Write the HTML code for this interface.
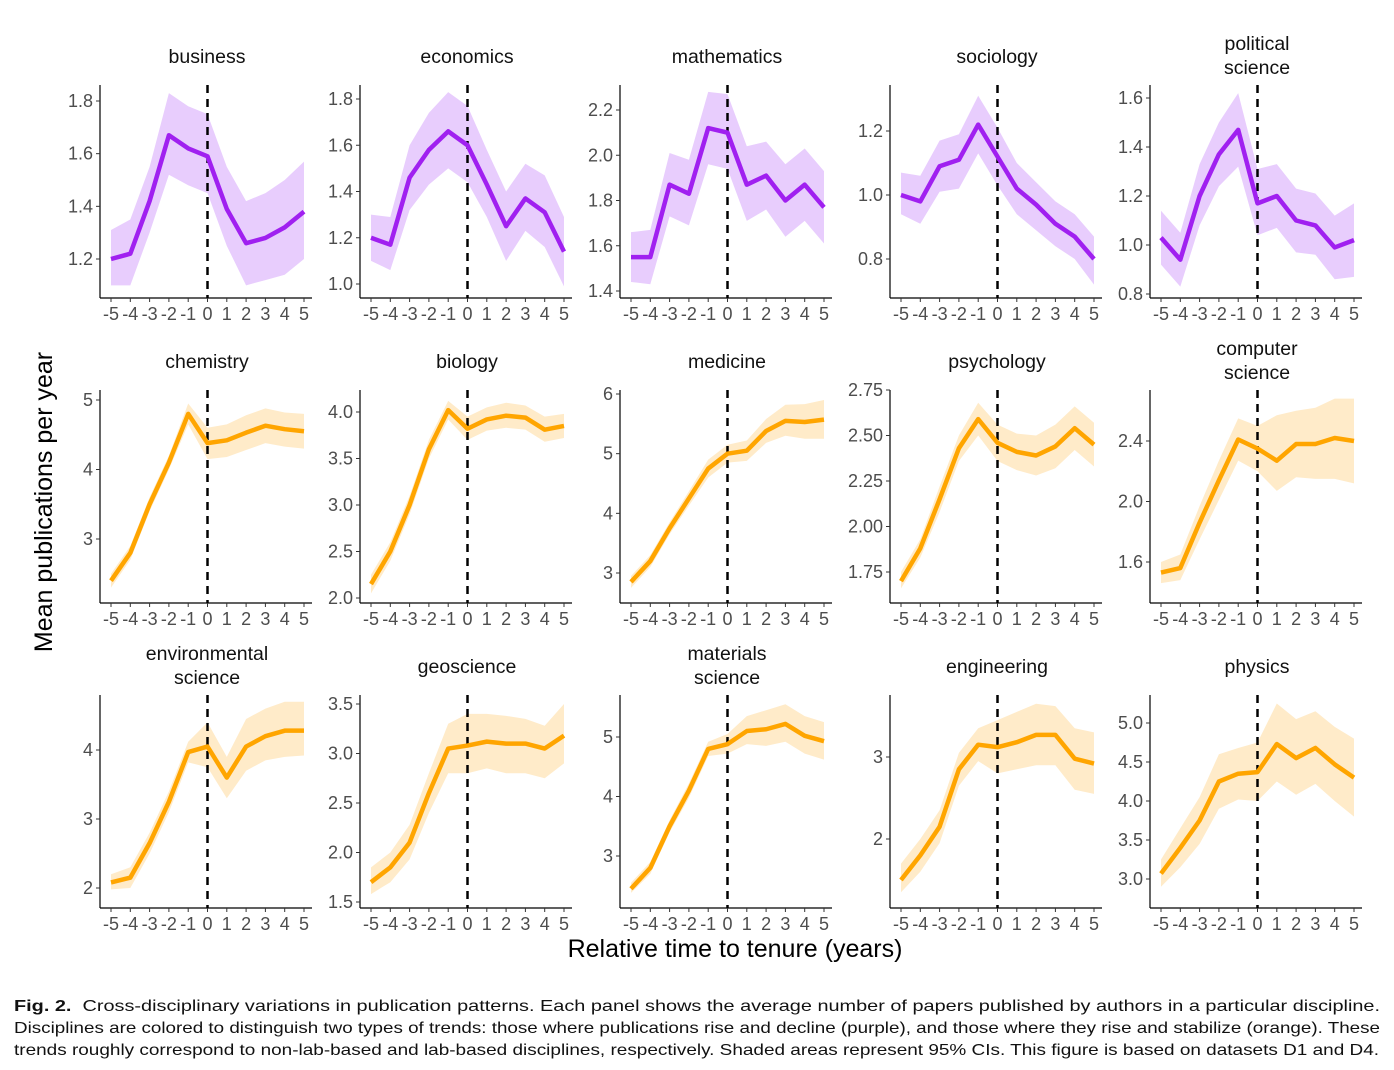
<!DOCTYPE html>
<html><head><meta charset="utf-8">
<style>
body{margin:0;background:#fff;width:1394px;height:1070px;overflow:hidden;font-family:"Liberation Sans",sans-serif}
</style></head><body>
<svg id="chart" width="1394" height="990" style="position:absolute;left:0;top:0" xmlns="http://www.w3.org/2000/svg" font-family="Liberation Sans, sans-serif"></svg>
<svg width="1394" height="80" style="position:absolute;left:0;top:990px" font-family="Liberation Sans, sans-serif" font-size="16" fill="#111">
<text x="14" y="21" textLength="1366" lengthAdjust="spacingAndGlyphs"><tspan font-weight="bold">Fig. 2.</tspan>&#160;&#160;Cross-disciplinary variations in publication patterns. Each panel shows the average number of papers published by authors in a particular discipline.</text>
<text x="14" y="43" textLength="1366" lengthAdjust="spacingAndGlyphs">Disciplines are colored to distinguish two types of trends: those where publications rise and decline (purple), and those where they rise and stabilize (orange). These</text>
<text x="14" y="65" textLength="1365" lengthAdjust="spacingAndGlyphs">trends roughly correspond to non-lab-based and lab-based disciplines, respectively. Shaded areas represent 95% CIs. This figure is based on datasets D1 and D4.</text>
</svg>
<script>
const xYears=[-5,-4,-3,-2,-1,0,1,2,3,4,5];
const titles=[["business"],["economics"],["mathematics"],["sociology"],["political","science"],["chemistry"],["biology"],["medicine"],["psychology"],["computer","science"],["environmental","science"],["geoscience"],["materials","science"],["engineering"],["physics"]];
const purple=[true,true,true,true,true,false,false,false,false,false,false,false,false,false,false];
const means=[
[1.20,1.22,1.42,1.67,1.62,1.59,1.39,1.26,1.28,1.32,1.38],
[1.20,1.17,1.46,1.58,1.66,1.60,1.43,1.25,1.37,1.31,1.14],
[1.55,1.55,1.87,1.83,2.12,2.10,1.87,1.91,1.80,1.87,1.77],
[1.00,0.98,1.09,1.11,1.22,1.12,1.02,0.97,0.91,0.87,0.80],
[1.03,0.94,1.20,1.37,1.47,1.17,1.20,1.10,1.08,0.99,1.02],
[2.4,2.8,3.5,4.1,4.8,4.38,4.42,4.53,4.63,4.58,4.55],
[2.15,2.5,3.0,3.6,4.02,3.82,3.92,3.96,3.94,3.81,3.85],
[2.85,3.2,3.75,4.25,4.75,5.0,5.05,5.38,5.55,5.53,5.57],
[1.70,1.88,2.15,2.43,2.59,2.46,2.41,2.39,2.44,2.54,2.45],
[1.53,1.56,1.86,2.14,2.41,2.35,2.27,2.38,2.38,2.42,2.40],
[2.08,2.15,2.65,3.25,3.97,4.05,3.6,4.05,4.2,4.28,4.28],
[1.70,1.85,2.10,2.60,3.05,3.08,3.12,3.10,3.10,3.05,3.18],
[2.45,2.8,3.5,4.1,4.8,4.88,5.1,5.13,5.22,5.02,4.93],
[1.5,1.8,2.15,2.85,3.15,3.12,3.18,3.27,3.27,2.98,2.92],
[3.07,3.4,3.75,4.25,4.35,4.37,4.73,4.55,4.68,4.47,4.3]];
const uppers=[
[1.31,1.35,1.55,1.83,1.78,1.75,1.55,1.42,1.45,1.50,1.57],
[1.30,1.29,1.60,1.74,1.83,1.77,1.58,1.40,1.52,1.47,1.29],
[1.66,1.67,2.01,1.98,2.28,2.27,2.04,2.06,1.96,2.03,1.93],
[1.07,1.06,1.17,1.19,1.31,1.21,1.10,1.04,0.98,0.94,0.87],
[1.14,1.05,1.33,1.50,1.62,1.31,1.33,1.23,1.21,1.12,1.17],
[2.5,2.9,3.6,4.2,4.95,4.6,4.65,4.78,4.88,4.82,4.8],
[2.25,2.6,3.1,3.7,4.12,3.95,4.05,4.1,4.07,3.95,3.98],
[2.95,3.3,3.85,4.37,4.9,5.15,5.22,5.58,5.82,5.83,5.9],
[1.75,1.93,2.22,2.50,2.68,2.56,2.51,2.50,2.56,2.66,2.57],
[1.60,1.65,1.97,2.27,2.55,2.50,2.57,2.60,2.62,2.68,2.68],
[2.2,2.3,2.8,3.4,4.12,4.4,3.9,4.45,4.6,4.7,4.7],
[1.85,2.0,2.28,2.8,3.3,3.4,3.4,3.38,3.35,3.28,3.5],
[2.55,2.9,3.6,4.22,4.92,5.05,5.35,5.45,5.55,5.35,5.25],
[1.7,2.0,2.35,3.05,3.35,3.45,3.55,3.65,3.62,3.35,3.3],
[3.25,3.65,4.05,4.6,4.68,4.75,5.25,5.05,5.15,4.95,4.8]];
const lowers=[
[1.10,1.10,1.30,1.52,1.48,1.45,1.25,1.10,1.12,1.14,1.20],
[1.10,1.06,1.32,1.43,1.50,1.44,1.29,1.10,1.23,1.16,0.99],
[1.44,1.43,1.73,1.69,1.96,1.94,1.71,1.76,1.64,1.71,1.61],
[0.94,0.91,1.01,1.02,1.13,1.03,0.94,0.89,0.84,0.80,0.72],
[0.92,0.83,1.08,1.24,1.32,1.04,1.07,0.97,0.96,0.86,0.87],
[2.3,2.7,3.4,4.0,4.65,4.15,4.18,4.28,4.38,4.33,4.3],
[2.05,2.4,2.9,3.5,3.92,3.7,3.8,3.83,3.81,3.68,3.72],
[2.75,3.1,3.65,4.13,4.6,4.85,4.88,5.18,5.3,5.25,5.25],
[1.66,1.83,2.08,2.36,2.50,2.36,2.31,2.28,2.32,2.42,2.33],
[1.46,1.48,1.75,2.01,2.27,2.20,2.07,2.16,2.15,2.15,2.12],
[1.98,2.0,2.5,3.1,3.82,3.75,3.3,3.7,3.85,3.9,3.92],
[1.58,1.7,1.93,2.4,2.8,2.8,2.85,2.8,2.8,2.75,2.9],
[2.38,2.7,3.4,3.98,4.68,4.72,4.88,4.85,4.92,4.72,4.62],
[1.35,1.6,1.95,2.65,2.95,2.8,2.85,2.9,2.9,2.6,2.55],
[2.9,3.15,3.45,3.9,4.02,4.0,4.25,4.08,4.22,4.0,3.8]];
const yTicks=[
["1.2","1.4","1.6","1.8"],["1.0","1.2","1.4","1.6","1.8"],["1.4","1.6","1.8","2.0","2.2"],["0.8","1.0","1.2"],["0.8","1.0","1.2","1.4","1.6"],
["3","4","5"],["2.0","2.5","3.0","3.5","4.0"],["3","4","5","6"],["1.75","2.00","2.25","2.50","2.75"],["1.6","2.0","2.4"],
["2","3","4"],["1.5","2.0","2.5","3.0","3.5"],["3","4","5"],["2","3"],["3.0","3.5","4.0","4.5","5.0"]];
const yCal=[
[1.2,259,1.8,101],[1.0,284,1.8,99],[1.4,291,2.2,110],[0.8,259,1.2,131],[0.8,294,1.6,98],
[3,539,5,400],[2.0,598,4.0,412],[3,573,6,394],[1.75,572,2.75,390],[1.6,562,2.4,441],
[2,888,4,750],[1.5,902,3.5,704],[3,856,5,737],[2,839,3,757],[3.0,879,5.0,723]];
const colX=[100,360,620,890,1150];
const rowTop=[85,390,695], rowBot=[298,603,908];
const svg=document.getElementById('chart');
const NS='http://www.w3.org/2000/svg';
function mk(tag,attrs,parent){const e=document.createElementNS(NS,tag);for(const k in attrs)e.setAttribute(k,attrs[k]);(parent||svg).appendChild(e);return e;}
for(let i=0;i<15;i++){
  const c=i%5,r=Math.floor(i/5);
  const ax=colX[c],top=rowTop[r],bot=rowBot[r];
  const g=mk('g',{});
  
  
  const xs=v=>ax+11+(v+5)*19.3;
  const cal=yCal[i];
  const ys=v=>cal[1]+(v-cal[0])*(cal[3]-cal[1])/(cal[2]-cal[0]);
  const col=purple[i]?'#a020f0':'#ffa500', fill=purple[i]?'#e8cdfd':'#ffebc9';
  let d='M'+xYears.map((x,k)=>xs(x)+','+ys(uppers[i][k])).join('L')+'L'+xYears.slice().reverse().map((x,k)=>xs(x)+','+ys(lowers[i][10-k])).join('L')+'Z';
  const band=mk('path',{d:d,fill:fill,stroke:'none'},g);
  
  
  const dl=mk('line',{x1:xs(0),x2:xs(0),y1:top,y2:bot,stroke:'#000','stroke-width':2.5,'stroke-dasharray':'8,6'},g);
  
  
  const ln=mk('polyline',{points:xYears.map((x,k)=>xs(x)+','+ys(means[i][k])).join(' '),fill:'none',stroke:col,'stroke-width':4.5,'stroke-linejoin':'round'},g);
  
  
  mk('line',{x1:ax,x2:ax,y1:top,y2:bot,stroke:'#000','stroke-width':1.2},g);
  mk('line',{x1:ax,x2:ax+212,y1:bot,y2:bot,stroke:'#000','stroke-width':1.2},g);
  yTicks[i].forEach(t=>{const y=ys(parseFloat(t));
    mk('line',{x1:ax-4,x2:ax,y1:y,y2:y,stroke:'#333','stroke-width':1},g);
    const tx=mk('text',{x:ax-7,y:y+6,'text-anchor':'end','font-size':18,fill:'#4d4d4d'},g);tx.textContent=t;
    
    });
  xYears.forEach(v=>{const x=xs(v);
    mk('line',{x1:x,x2:x,y1:bot,y2:bot+4,stroke:'#333','stroke-width':1},g);
    const tx=mk('text',{x:x,y:bot+22,'text-anchor':'middle','font-size':18,fill:'#4d4d4d'},g);tx.textContent=String(v);
    
    });
  const tl=titles[i];
  tl.forEach((t,k)=>{const y=tl.length===1?top-22:top-35+k*24;
    const tx=mk('text',{x:ax+107,y:y,'text-anchor':'middle','font-size':19.5,fill:'#111'},g);tx.textContent=t;
    
    });
}
const yt=mk('text',{x:0,y:0,transform:'translate(52,502) rotate(-90)','text-anchor':'middle','font-size':25,fill:'#000'});
yt.textContent='Mean publications per year';


const xt=mk('text',{x:735,y:957,'text-anchor':'middle','font-size':25,fill:'#000'});
xt.textContent='Relative time to tenure (years)';


</script>
</body></html>
